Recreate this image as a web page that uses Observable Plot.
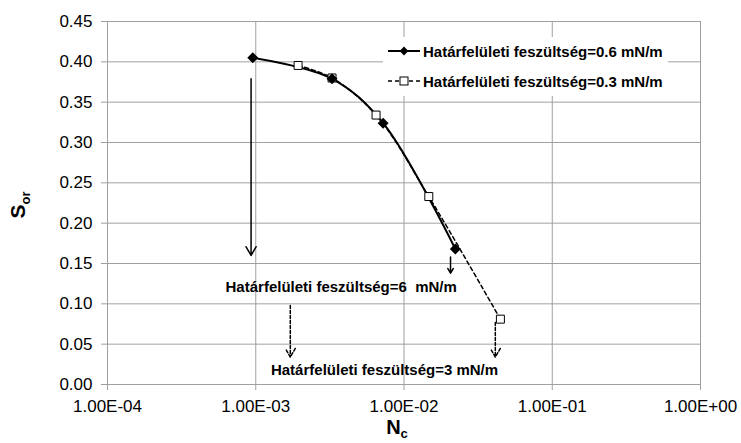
<!DOCTYPE html>
<html><head><meta charset="utf-8">
<script src="https://cdn.jsdelivr.net/npm/d3@7"></script>
<script src="https://cdn.jsdelivr.net/npm/@observablehq/plot@0.6"></script>
<style>
body{margin:0;background:#fff;}
#wrap{position:relative;width:741px;height:443px;overflow:hidden;font-family:"Liberation Sans",Arial,sans-serif;}
#wrap svg text{white-space:pre;}
#legend{position:absolute;left:383px;top:37px;width:285px;height:59px;background:#fff;}
#legend .row{position:absolute;left:0;height:20px;display:flex;align-items:center;}
#legend .lab{font-weight:bold;font-size:15px;color:#000;margin-left:3px;white-space:nowrap;}
#legend svg{display:block;}
</style></head><body>
<div id="wrap"></div>
<script>
// ---- data ----
const seriesNames = ["Határfelületi feszültség=0.6 mN/m", "Határfelületi feszültség=0.3 mN/m"];
const nc06 = [9.55e-4, 3.27e-3, 7.23e-3, 2.22e-2];
const sor06 = [0.405, 0.379, 0.324, 0.168];
const nc03 = [1.93e-3, 3.27e-3, 6.48e-3, 1.47e-2, 4.47e-2];
const sor03 = [0.3955, 0.380, 0.334, 0.233, 0.081];
const yTicks = [0, 0.05, 0.10, 0.15, 0.20, 0.25, 0.30, 0.35, 0.40, 0.45];
const xTicks = [1e-4, 1e-3, 1e-2, 1e-1, 1];
const xTickLabels = ["1.00E-04", "1.00E-03", "1.00E-02", "1.00E-01", "1.00E+00"];
const arrowX = [9.3e-4, 2.06e-2, 1.71e-3, 4.13e-2];
const arrowY1 = [0.379, 0.158, 0.098, 0.077];
const arrowY2 = [0.160, 0.138, 0.034, 0.034];
const arrowDashed = [false, false, true, true];
const noteTexts = ["Határfelületi feszültség=6  mN/m", "Határfelületi feszültség=3 mN/m"];
const noteX = [3.77e-3, 7.39e-3];
const noteY = [0.1206, 0.0174];
const xTitle = ["N", "c"];
const yTitle = ["S", "or"];

// ---- tables ----
const d06 = nc06.map((x, i) => ({x, y: sor06[i]}));
const d03 = nc03.map((x, i) => ({x, y: sor03[i]}));
const arrows = arrowX.map((x, i) => ({x, y1: arrowY1[i], y2: arrowY2[i], dashed: arrowDashed[i]}));
const notes = noteTexts.map((t, i) => ({t, x: noteX[i], y: noteY[i]}));
const xLabelOf = d => xTickLabels[xTicks.findIndex(t => Math.abs(Math.log10(t) - Math.log10(d)) < 1e-9)];

const grid = "#a0a0a0";
const plot = Plot.plot({
  width: 741, height: 443,
  marginLeft: 107, marginRight: 41, marginTop: 21, marginBottom: 59,
  x: {type: "log", domain: [1e-4, 1]},
  y: {domain: [0, 0.45]},
  style: {fontFamily: "Liberation Sans, Arial, sans-serif", fontSize: "17px", color: "#000", background: "#fff"},
  marks: [
    Plot.ruleY(yTicks, {stroke: grid, strokeWidth: 1}),
    Plot.ruleX(xTicks, {stroke: grid, strokeWidth: 1}),
    Plot.axisY({ticks: yTicks, tickFormat: d3.format(".2f"), tickSize: 6, tickPadding: 9, stroke: grid, label: null}),
    Plot.axisX({ticks: xTicks, tickFormat: xLabelOf, tickSize: 6, tickPadding: 9, stroke: grid, label: null}),
    Plot.line(d03, {x: "x", y: "y", curve: "catmull-rom", stroke: "#000", strokeWidth: 1.5, strokeDasharray: "4,3"}),
    Plot.line(d06, {x: "x", y: "y", curve: "catmull-rom", stroke: "#000", strokeWidth: 2}),
    Plot.dot(d03, {x: "x", y: "y", symbol: "square", r: 4.5, fill: "#fff", stroke: "#000", strokeWidth: 1}),
    Plot.dot(d06, {x: "x", y: "y", symbol: "diamond2", r: 4, fill: "#000", stroke: "#000"}),
    Plot.arrow(arrows.filter(d => !d.dashed), {x: "x", y1: "y1", y2: "y2", stroke: "#000", strokeWidth: 1.5, headLength: 10, headAngle: 60}),
    Plot.arrow(arrows.filter(d => d.dashed), {x: "x", y1: "y1", y2: "y2", stroke: "#000", strokeWidth: 1.5, strokeDasharray: "3,2", headLength: 10, headAngle: 60}),
    Plot.text(notes, {x: "x", y: "y", text: "t", fontWeight: "bold", fontSize: 15, fill: "#000"})
  ]
});

const wrap = document.getElementById("wrap");
wrap.appendChild(plot);
const svg = d3.select(plot);

// axis titles with subscripts
const yt = svg.append("text")
  .attr("transform", "translate(25,205) rotate(-90)")
  .attr("text-anchor", "middle")
  .attr("font-weight", "bold").attr("fill", "#000");
yt.append("tspan").attr("font-size", 21).text(yTitle[0]);
yt.append("tspan").attr("font-size", 13).attr("dy", 5).text(yTitle[1]);

const xt = svg.append("text")
  .attr("x", 397).attr("y", 434)
  .attr("font-weight", "bold").attr("fill", "#000");
xt.append("tspan").attr("font-size", 20).text(xTitle[0]);
xt.append("tspan").attr("font-size", 13).attr("dy", 4).text(xTitle[1]);

// legend (HTML overlay)
const leg = document.createElement("div");
leg.id = "legend";
const swatches = [
  '<svg width="37" height="20"><line x1="5" y1="10" x2="37" y2="10" stroke="#000" stroke-width="2"/><path d="M21,5.6L25.4,10L21,14.4L16.6,10Z" fill="#000"/></svg>',
  '<svg width="37" height="20"><line x1="5" y1="10" x2="37" y2="10" stroke="#000" stroke-width="1.5" stroke-dasharray="4,3"/><rect x="17" y="6" width="8" height="8" fill="#fff" stroke="#000"/></svg>'
];
const rowTops = [4, 34];
seriesNames.forEach((name, i) => {
  const row = document.createElement("div");
  row.className = "row";
  row.style.top = rowTops[i] + "px";
  row.innerHTML = swatches[i] + '<span class="lab"></span>';
  row.querySelector(".lab").textContent = name;
  leg.appendChild(row);
});
wrap.appendChild(leg);
</script>
</body></html>
